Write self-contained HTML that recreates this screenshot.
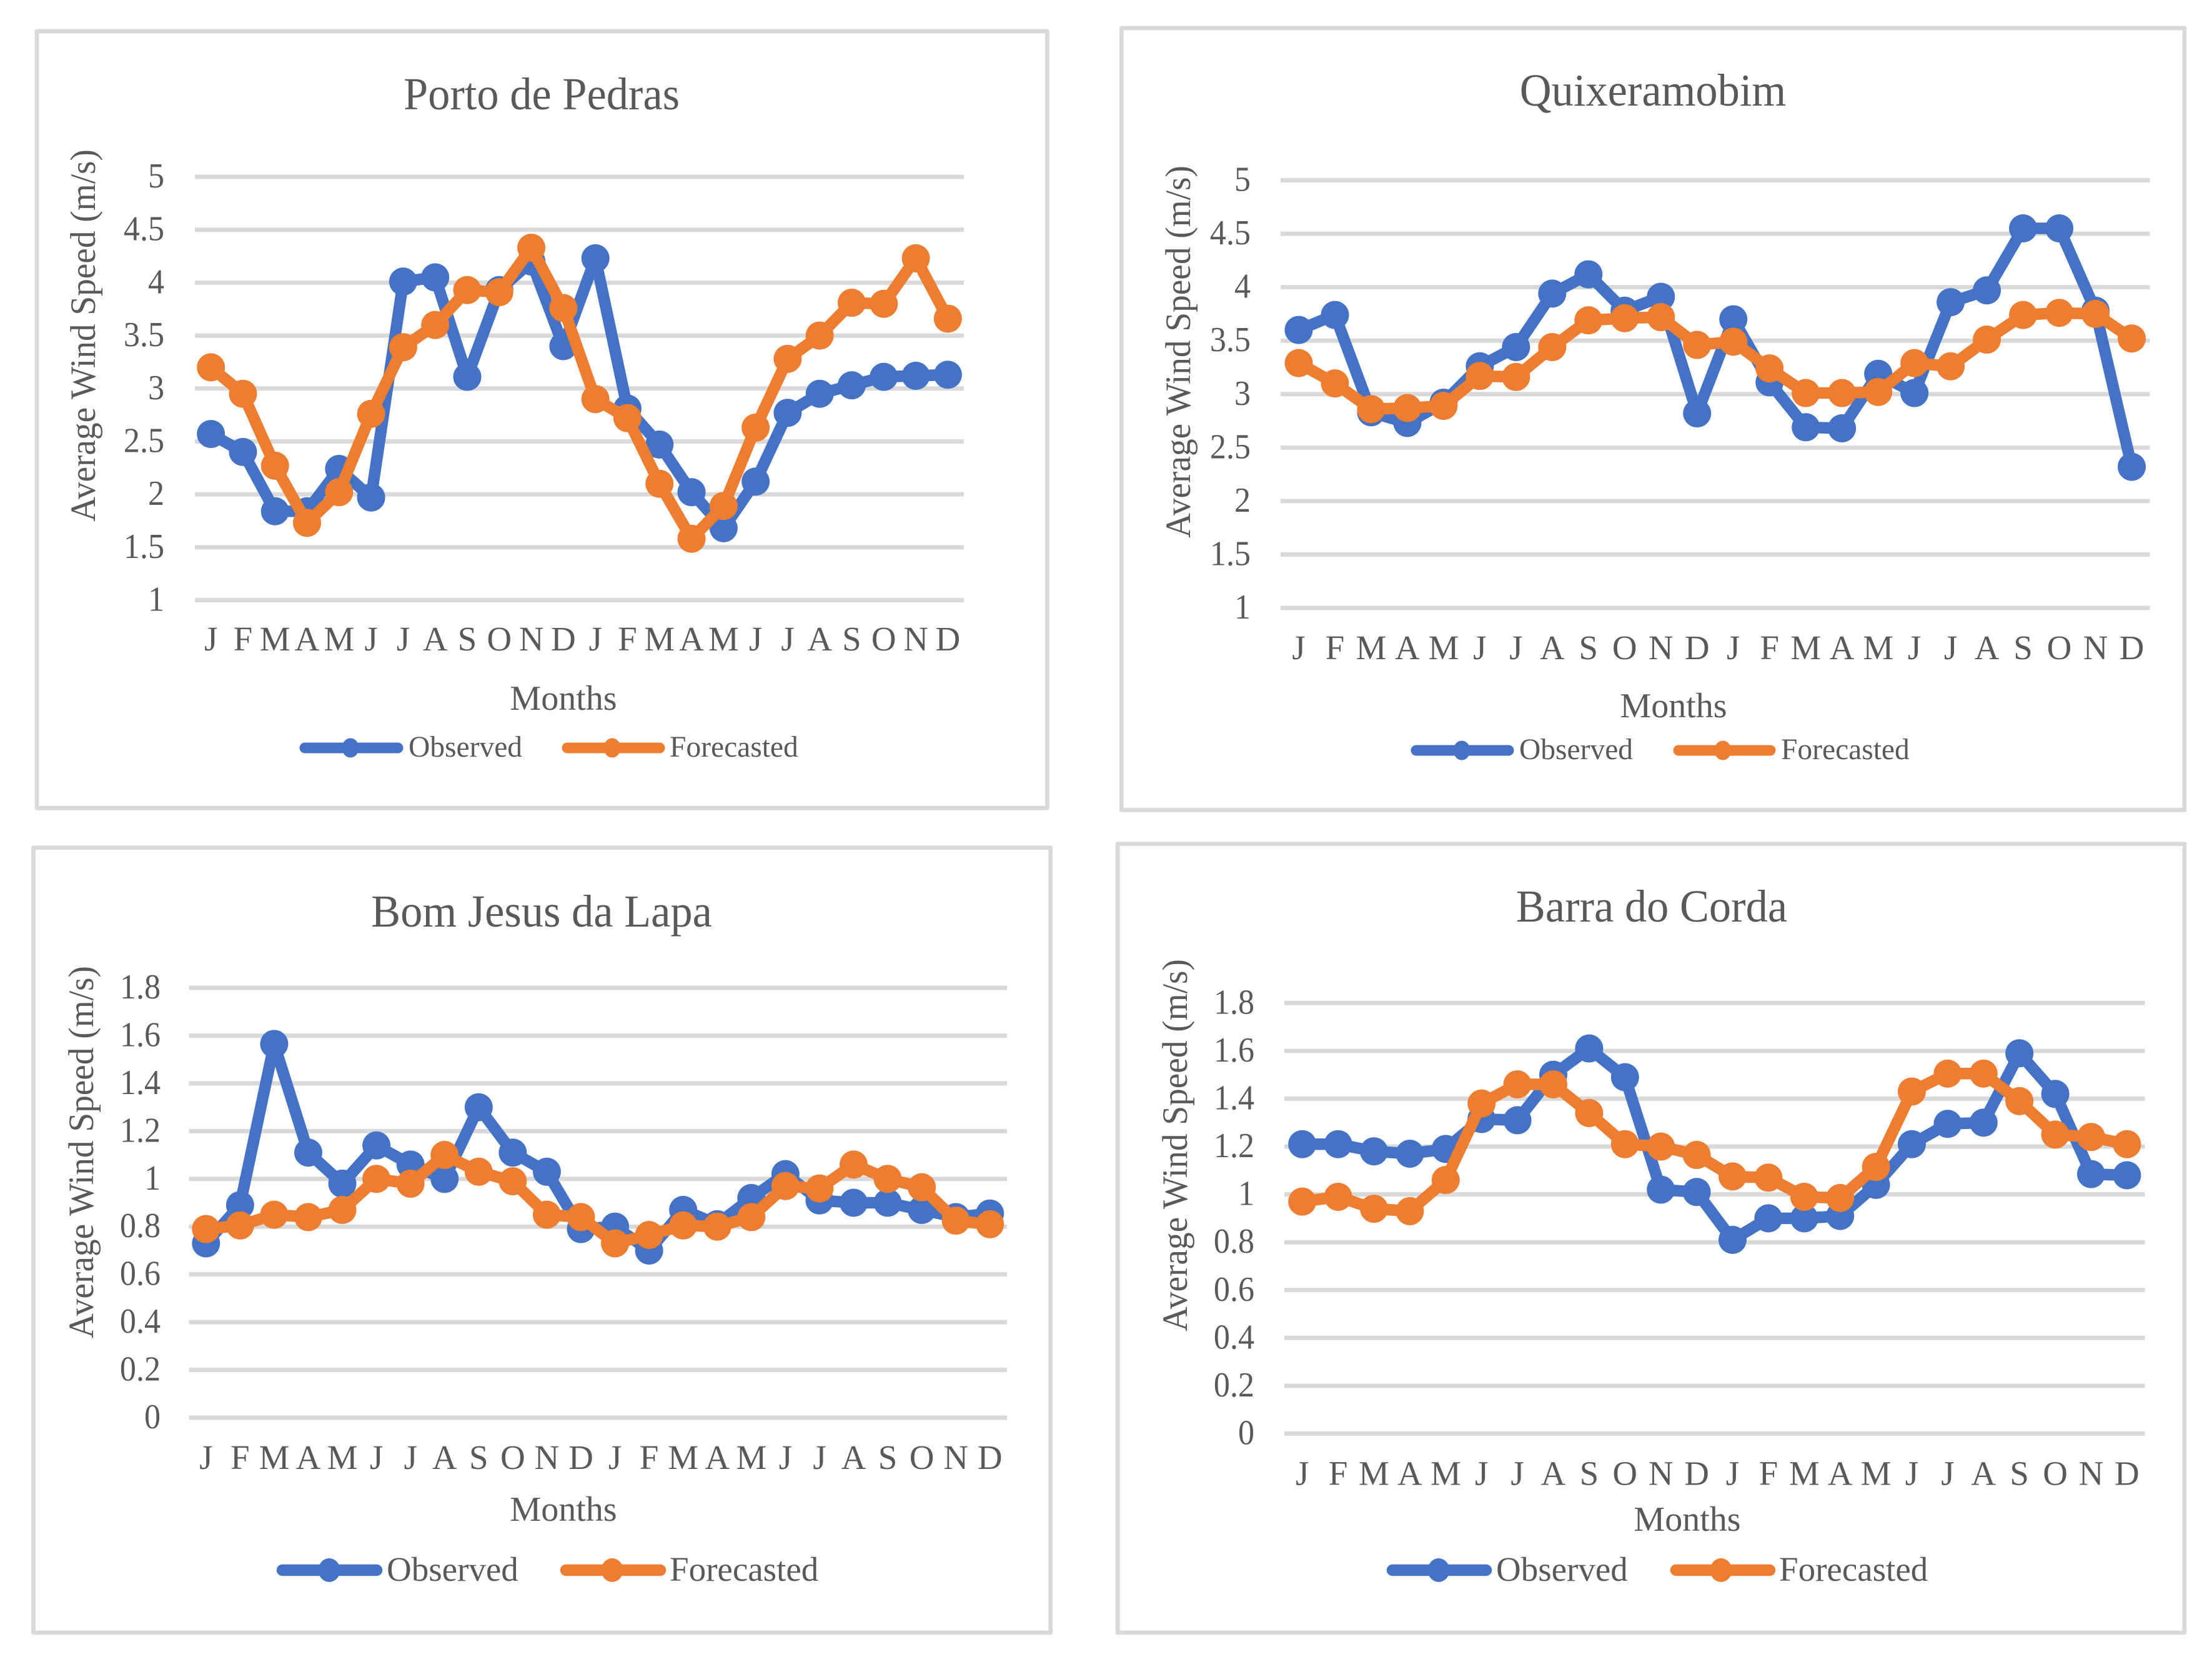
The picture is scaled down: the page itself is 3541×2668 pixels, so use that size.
<!DOCTYPE html>
<html lang="en">
<head>
<meta charset="utf-8">
<title>Observed and forecasted average wind speed</title>
<style>
  html, body { margin: 0; padding: 0; background: #fff; }
  svg { display: block; }
  text { font-family: "Liberation Serif", "Times New Roman", serif; fill: #595959; }
  .panel { fill: #fff; stroke: #d9d9d9; stroke-width: 6.8; stroke-linejoin: round; }
  .title { font-size: 73px; text-anchor: middle; }
  .axt { font-size: 56px; text-anchor: middle; }
  .ytitle { font-size: 57px; text-anchor: middle; }
  .leg { font-size: 47.5px; }
  .leg2 { font-size: 55px; }
</style>
</head>
<body>
<svg id="fig" xmlns="http://www.w3.org/2000/svg" width="3541" height="2668" viewBox="0 0 3541 2668">
  <rect x="0" y="0" width="3541" height="2668" fill="#ffffff"/>

  <g id="porto">
    <rect class="panel" x="59" y="50" width="1617.5" height="1243.3"/>
    <text class="title" transform="translate(867 175) scale(.965 1)">Porto de Pedras</text>
    <text class="ytitle" transform="translate(152 537) rotate(-90) scale(.97 1)">Average Wind Speed (m/s)</text>
    <text class="axt" x="902" y="1136">Months</text>
    <g>
      <g>
        <line x1="488" y1="1197" x2="637" y2="1197" stroke="#4472c4" stroke-width="17" stroke-linecap="round"/>
        <ellipse cx="561" cy="1197" rx="13.5" ry="15.5" fill="#4472c4"/>
        <text class="leg" x="654" y="1211">Observed</text>
      </g>
      <g>
        <line x1="908" y1="1197" x2="1056" y2="1197" stroke="#ed7d31" stroke-width="17" stroke-linecap="round"/>
        <ellipse cx="980" cy="1197" rx="13.5" ry="15.5" fill="#ed7d31"/>
        <text class="leg" x="1072" y="1211">Forecasted</text>
      </g>
    </g>
  </g>

  <g id="quixera">
    <rect class="panel" x="1795.3" y="45" width="1701.7" height="1251.3"/>
    <text class="title" transform="translate(2646 169) scale(.965 1)">Quixeramobim</text>
    <text class="ytitle" transform="translate(1905 563) rotate(-90) scale(.97 1)">Average Wind Speed (m/s)</text>
    <text class="axt" x="2679" y="1148">Months</text>
    <g>
      <g>
        <line x1="2267" y1="1201" x2="2415" y2="1201" stroke="#4472c4" stroke-width="17" stroke-linecap="round"/>
        <ellipse cx="2340" cy="1201" rx="13.5" ry="15.5" fill="#4472c4"/>
        <text class="leg" x="2432" y="1215">Observed</text>
      </g>
      <g>
        <line x1="2687" y1="1201" x2="2834" y2="1201" stroke="#ed7d31" stroke-width="17" stroke-linecap="round"/>
        <ellipse cx="2758" cy="1201" rx="13.5" ry="15.5" fill="#ed7d31"/>
        <text class="leg" x="2851" y="1215">Forecasted</text>
      </g>
    </g>
  </g>

  <g id="bomjesus">
    <rect class="panel" x="53.5" y="1356.7" width="1628.2" height="1256.3"/>
    <text class="title" transform="translate(867 1483) scale(.965 1)">Bom Jesus da Lapa</text>
    <text class="ytitle" transform="translate(149 1844) rotate(-90) scale(.97 1)">Average Wind Speed (m/s)</text>
    <text class="axt" x="902" y="2434">Months</text>
    <g>
      <g>
        <line x1="452" y1="2513" x2="603" y2="2513" stroke="#4472c4" stroke-width="18.5" stroke-linecap="round"/>
        <ellipse cx="527" cy="2513" rx="17.5" ry="19" fill="#4472c4"/>
        <text class="leg2" x="619" y="2530">Observed</text>
      </g>
      <g>
        <line x1="906" y1="2513" x2="1057" y2="2513" stroke="#ed7d31" stroke-width="18.5" stroke-linecap="round"/>
        <ellipse cx="980" cy="2513" rx="17.5" ry="19" fill="#ed7d31"/>
        <text class="leg2" x="1072" y="2530">Forecasted</text>
      </g>
    </g>
  </g>

  <g id="barra">
    <rect class="panel" x="1789.3" y="1350.7" width="1707.7" height="1262.3"/>
    <text class="title" transform="translate(2644 1475) scale(.965 1)">Barra do Corda</text>
    <text class="ytitle" transform="translate(1900 1833) rotate(-90) scale(.97 1)">Average Wind Speed (m/s)</text>
    <text class="axt" x="2701" y="2450">Months</text>
    <g>
      <g>
        <line x1="2229" y1="2513" x2="2379" y2="2513" stroke="#4472c4" stroke-width="18.5" stroke-linecap="round"/>
        <ellipse cx="2303" cy="2513" rx="17.5" ry="19" fill="#4472c4"/>
        <text class="leg2" x="2395" y="2530">Observed</text>
      </g>
      <g>
        <line x1="2683" y1="2513" x2="2833" y2="2513" stroke="#ed7d31" stroke-width="18.5" stroke-linecap="round"/>
        <ellipse cx="2755" cy="2513" rx="17.5" ry="19" fill="#ed7d31"/>
        <text class="leg2" x="2848" y="2530">Forecasted</text>
      </g>
    </g>
  </g>
</svg>

<script>
// Shared categories and tick labels
var months = ["J","F","M","A","M","J","J","A","S","O","N","D","J","F","M","A","M","J","J","A","S","O","N","D"];
var ticksHigh = ["1","1.5","2","2.5","3","3.5","4","4.5","5"];
var ticksLow = ["0","0.2","0.4","0.6","0.8","1","1.2","1.4","1.6","1.8"];

// Porto de Pedras
var portoObserved = [2.57,2.40,1.84,1.84,2.24,1.97,4.01,4.05,3.11,3.93,4.20,3.40,4.23,2.81,2.47,2.02,1.68,2.12,2.77,2.95,3.03,3.11,3.12,3.13];
var portoForecasted = [3.20,2.95,2.27,1.73,2.02,2.76,3.39,3.60,3.93,3.91,4.33,3.76,2.90,2.72,2.10,1.58,1.89,2.63,3.28,3.50,3.81,3.80,4.23,3.66];

// Quixeramobim
var quixeraObserved = [3.60,3.74,2.83,2.73,2.92,3.26,3.44,3.94,4.12,3.78,3.91,2.82,3.70,3.11,2.69,2.68,3.19,3.01,3.86,3.97,4.55,4.55,3.78,2.32];
var quixeraForecasted = [3.29,3.10,2.86,2.87,2.89,3.17,3.16,3.44,3.69,3.71,3.72,3.46,3.49,3.24,3.01,3.01,3.02,3.29,3.26,3.51,3.74,3.76,3.75,3.52];

// Bom Jesus da Lapa
var bomObserved = [0.73,0.89,1.565,1.11,0.98,1.14,1.06,1.00,1.30,1.11,1.03,0.79,0.80,0.70,0.87,0.81,0.92,1.02,0.91,0.90,0.90,0.87,0.84,0.855];
var bomForecasted = [0.79,0.805,0.85,0.84,0.87,1.00,0.98,1.10,1.03,0.99,0.85,0.84,0.73,0.765,0.805,0.80,0.84,0.97,0.96,1.06,1.00,0.965,0.825,0.81];

// Barra do Corda
var barraObserved = [1.21,1.21,1.18,1.17,1.19,1.315,1.31,1.50,1.61,1.49,1.02,1.01,0.81,0.90,0.90,0.91,1.04,1.21,1.295,1.30,1.59,1.42,1.085,1.08];
var barraForecasted = [0.97,0.99,0.94,0.93,1.06,1.38,1.46,1.46,1.34,1.21,1.20,1.165,1.075,1.07,0.99,0.985,1.115,1.43,1.505,1.505,1.39,1.25,1.24,1.21];

var SVGNS = "http://www.w3.org/2000/svg";

function node(parent, tag, attrs) {
  var el = document.createElementNS(SVGNS, tag);
  for (var k in attrs) el.setAttribute(k, attrs[k]);
  parent.appendChild(el);
  return el;
}

function drawChart(g, plot, ticks, observed, forecasted) {
  var vMin = parseFloat(ticks[0]);
  var vMax = parseFloat(ticks[ticks.length - 1]);
  var band = (plot.x1 - plot.x0) / months.length;
  function xScale(i) { return plot.x0 + (i + 0.5) * band; }
  function yScale(v) { return plot.yBottom - (v - vMin) / (vMax - vMin) * (plot.yBottom - plot.yTop); }

  var grid = node(g, "g", {});
  
  
  var yAxis = node(g, "g", {});
  
  
  ticks.forEach(function (t) {
    var y = yScale(parseFloat(t));
    var line = node(grid, "line", { x1: plot.x0, x2: plot.x1, y1: y, y2: y, stroke: "#d9d9d9", "stroke-width": 7 });
    
    
    var label = node(yAxis, "text", { transform: "translate(" + plot.tickX + " " + (y + 17) + ") scale(.93 1)", "text-anchor": "end", "font-size": 56 });
    
    
    label.textContent = t;
  });

  var xAxis = node(g, "g", {});
  
  
  months.forEach(function (m, i) {
    var label = node(xAxis, "text", { x: xScale(i), y: plot.monthY, "text-anchor": "middle", "font-size": 55 });
    
    
    label.textContent = m;
  });

  function drawSeries(values, color, name) {
    var s = node(g, "g", {});
    
    
    var pts = values.map(function (v, i) { return xScale(i).toFixed(1) + "," + yScale(v).toFixed(1); }).join(" ");
    var line = node(s, "polyline", { points: pts, fill: "none", stroke: color, "stroke-width": 18.5, "stroke-linejoin": "round", "stroke-linecap": "round" });
    
    
    values.forEach(function (v, i) {
      var c = node(s, "circle", { cx: xScale(i), cy: yScale(v), r: 22.5, fill: color });
      
      
    });
  }
  drawSeries(observed, "#4472c4", "observed");
  drawSeries(forecasted, "#ed7d31", "forecasted");
}

drawChart(document.getElementById("porto"),
  { x0: 312, x1: 1543, yTop: 283, yBottom: 960.5, tickX: 263, monthY: 1041 },
  ticksHigh, portoObserved, portoForecasted);
drawChart(document.getElementById("quixera"),
  { x0: 2050, x1: 3441.5, yTop: 288.5, yBottom: 973, tickX: 2002, monthY: 1055 },
  ticksHigh, quixeraObserved, quixeraForecasted);
drawChart(document.getElementById("bomjesus"),
  { x0: 302.5, x1: 1612, yTop: 1581, yBottom: 2269, tickX: 257, monthY: 2351 },
  ticksLow, bomObserved, bomForecasted);
drawChart(document.getElementById("barra"),
  { x0: 2056, x1: 3433.6, yTop: 1605.3, yBottom: 2294.5, tickX: 2008, monthY: 2376.5 },
  ticksLow, barraObserved, barraForecasted);
</script>
</body>
</html>
